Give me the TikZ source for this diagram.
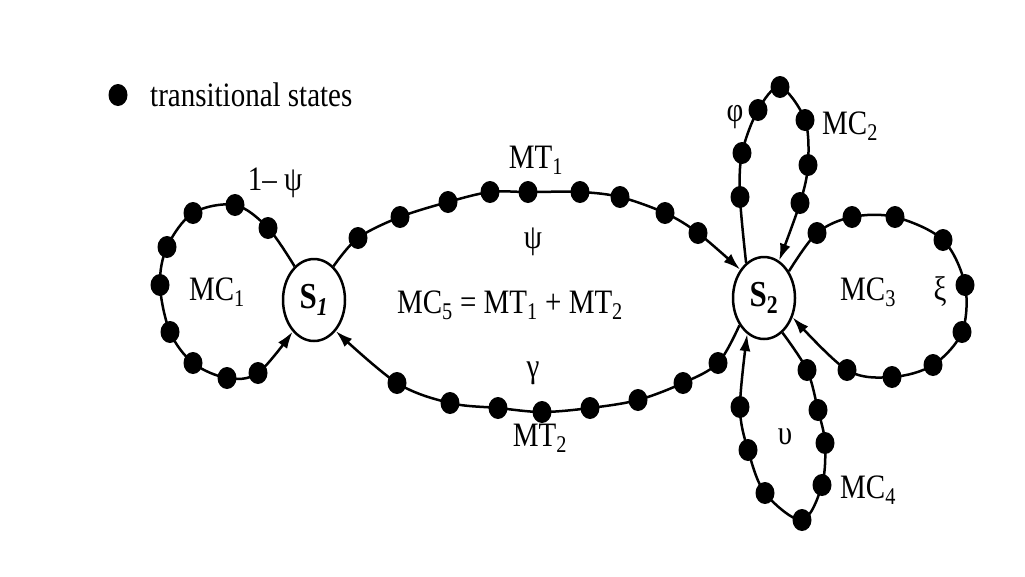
\documentclass[tikz,border=0pt]{standalone}
\usepackage{fontspec}
\setmainfont{Liberation Serif}
\usepackage{graphicx}
\usetikzlibrary{shapes.geometric,arrows.meta}
\newcommand\vst[1]{\scalebox{1}[1.18]{#1}}
\tikzset{
  state/.style={draw,line width=2.5pt,ellipse,minimum width=62pt,minimum height=82pt,inner sep=0pt,font=\fontsize{31}{33}\selectfont\bfseries},
  tdot/.style={fill=black,ellipse,minimum width=19pt,minimum height=22pt,inner sep=0pt},
  chain/.style={line width=2.5pt},
  arr/.style={chain,-{Latex[length=17pt,width=11pt]}},
  lbl/.style={font=\fontsize{29}{31}\selectfont,inner sep=0pt}
}
\begin{document}
\begin{tikzpicture}[x=1pt,y=-1pt]
\useasboundingbox[fill=white] (0,0) rectangle (1025,576);
% legend
\node[tdot] (leg) at (118,95) {};
\node[lbl,anchor=west] (legt) at (150,95) {\vst{transitional states}};
% states
\node[state] (S1) at (314,300) {\vst{S\textsubscript{\itshape 1}}};
\node[state] (S2) at (764,298) {\vst{S\textsubscript{2}}};
% MC1
\draw[arr] plot[smooth,tension=0.55] coordinates {(S1.120) (268,228) (235,205) (193,213) (167,247) (160,285) (170,332) (193,363) (227,378) (258,373) (S1.236)};
\foreach \p [count=\i] in {(268,228),(235,205),(193,213),(167,247),(160,285),(170,332),(193,363),(227,378),(258,373)}
  \node[tdot] (a\i) at \p {};
% MT1
\draw[arr] plot[smooth,tension=0.55] coordinates {(S1.60) (358,238) (400,217) (448,202) (490,192) (528,192) (580,192) (620,197) (665,213) (698,233) (S2.130)};
\foreach \p [count=\i] in {(358,238),(400,217),(448,202),(490,192),(528,192),(580,192),(620,197),(665,213),(698,233)}
  \node[tdot] (b\i) at \p {};
% MT2
\draw[arr] plot[smooth,tension=0.55] coordinates {(S2.228) (718,363) (683,383) (638,400) (590,408) (542,412) (498,408) (450,403) (397,383) (S1.305)};
\foreach \p [count=\i] in {(718,363),(683,383),(638,400),(590,408),(542,412),(498,408),(450,403),(397,383)}
  \node[tdot] (c\i) at \p {};
% MC2
\draw[arr] plot[smooth,tension=0.55] coordinates {(S2.117) (740,197) (742,153) (758,110) (780,87) (805,120) (808,165) (800,203) (S2.68)};
\foreach \p [count=\i] in {(740,197),(742,153),(758,110),(780,87),(805,120),(808,165),(800,203)}
  \node[tdot] (d\i) at \p {};
% MC3
\draw[arr] plot[smooth,tension=0.55] coordinates {(S2.47) (817,233) (852,217) (895,217) (943,240) (965,285) (962,332) (933,365) (892,377) (847,370) (S2.326)};
\foreach \p [count=\i] in {(817,233),(852,217),(895,217),(943,240),(965,285),(962,332),(933,365),(892,377),(847,370)}
  \node[tdot] (e\i) at \p {};
% MC4
\draw[arr] plot[smooth,tension=0.55] coordinates {(S2.298) (807,370) (818,410) (825,443) (822,485) (802,520) (765,493) (748,450) (740,407) (S2.245)};
\foreach \p [count=\i] in {(807,370),(818,410),(825,443),(822,485),(802,520),(765,493),(748,450),(740,407)}
  \node[tdot] (f\i) at \p {};
% labels
\node[lbl] (l1) at (275,183) {\vst{1– ψ}};
\node[lbl] (l2) at (217,292) {\vst{MC\textsubscript{1}}};
\node[lbl] (l3) at (536,160) {\vst{MT\textsubscript{1}}};
\node[lbl] (l4) at (533,242) {\vst{ψ}};
\node[lbl] (l5) at (510,305) {\vst{MC\textsubscript{5} = MT\textsubscript{1} + MT\textsubscript{2}}};
\node[lbl] (l6) at (533,373) {\vst{γ}};
\node[lbl] (l7) at (540,438) {\vst{MT\textsubscript{2}}};
\node[lbl] (l8) at (735,117) {\vst{φ}};
\node[lbl] (l9) at (850,126) {\vst{MC\textsubscript{2}}};
\node[lbl] (l10) at (868,292) {\vst{MC\textsubscript{3}}};
\node[lbl] (l11) at (940,292) {\vst{ξ}};
\node[lbl] (l12) at (785,437) {\vst{υ}};
\node[lbl] (l13) at (868,490) {\vst{MC\textsubscript{4}}};
\end{tikzpicture}
\end{document}
